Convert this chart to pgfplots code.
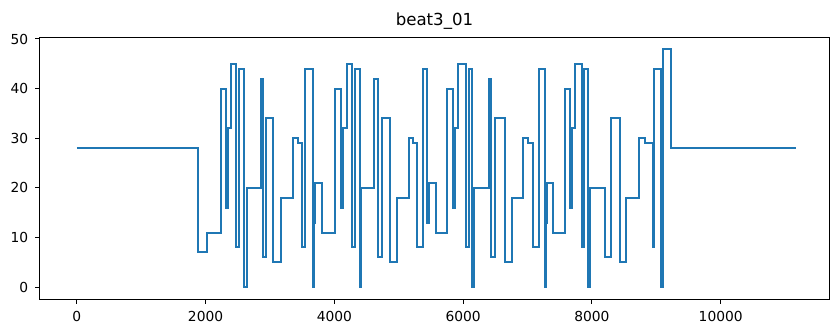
\documentclass[border=0pt]{standalone}
\usepackage{pgfplots}
\pgfplotsset{compat=1.18}
\usepackage{fontspec}
\setmainfont{DejaVu Sans}
\definecolor{tabblue}{HTML}{1F77B4}
\begin{document}
\begin{tikzpicture}
\begin{axis}[
  name=ax,
  scale only axis,
  width=394.5pt, height=131pt,
  xmin=-571, xmax=11682,
  ymin=-2.4, ymax=50.4,
  xtick={0,2000,4000,6000,8000,10000},
  ytick={0,10,20,30,40,50},
  scaled x ticks=false,
  /pgf/number format/1000 sep={},
  /pgf/number format/assume math mode=true,
  tick pos=left,
  tick align=outside,
  major tick length=2.4pt,
  tick style={line width=0.5pt, black},
  axis line style={line width=0.5pt},
  ticklabel style={font=\fontsize{6.9}{8}\selectfont},
  title={beat3\_01},
  title style={font=\fontsize{8.3}{10}\selectfont, yshift=-5.5pt},
]
\addplot[const plot, color=tabblue, line width=1.0pt, line join=miter] coordinates {
(0,28) (1884,7) (2030,11) (2236,40) (2320,16) (2345,32) (2402,45) (2480,8) (2520,44)
(2600,0) (2640,20) (2858,42) (2894,6) (2935,34) (3049,5) (3179,18) (3360,30) (3438,29)
(3500,8) (3545,44) (3670,0) (3685,13) (3700,21) (3810,11) (4017,40) (4105,16) (4130,32)
(4203,45) (4276,8) (4320,44) (4395,0) (4415,20) (4612,42) (4680,6) (4742,34) (4871,5)
(4975,18) (5156,30) (5223,29) (5290,8) (5378,44) (5440,13) (5470,21) (5571,11) (5757,40)
(5845,16) (5870,32) (5922,45) (6052,8) (6090,44) (6140,0) (6165,20) (6398,42) (6440,6)
(6502,34) (6647,5) (6761,18) (6932,30) (7009,29) (7087,8) (7180,44) (7268,0) (7280,13)
(7300,21) (7388,11) (7579,40) (7662,16) (7690,32) (7734,45) (7848,8) (7880,44) (7941,0)
(7967,20) (8211,6) (8293,34) (8433,5) (8537,18) (8728,30) (8821,29) (8950,8) (8965,44)
(9070,0) (9105,48) (9235,28) (11170,28)
};
\end{axis}
\pgfresetboundingbox
\path[use as bounding box] ([shift={(-20pt,-12.5pt)}]ax.south west) rectangle ([shift={(1pt,18.5pt)}]ax.north east);
\end{tikzpicture}
\end{document}
